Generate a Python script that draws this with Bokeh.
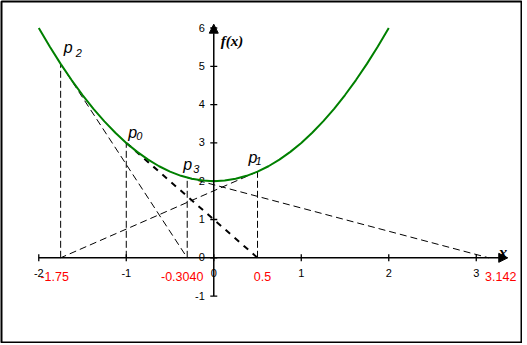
import numpy as np
from bokeh.plotting import figure
from bokeh.models import Range1d, Arrow, NormalHead
from bokeh.core.properties import value
from bokeh.embed import file_html
from bokeh.resources import INLINE

# ---- data ----
# the parabola f(x), sampled
curve_x = [-2.0, -1.875, -1.75, -1.625, -1.5, -1.375, -1.25, -1.125, -1.0,
           -0.875, -0.75, -0.625, -0.5, -0.375, -0.25, -0.125, 0.0,
           0.125, 0.25, 0.375, 0.5, 0.625, 0.75, 0.875, 1.0,
           1.125, 1.25, 1.375, 1.5, 1.625, 1.75, 1.875, 2.0]
curve_y = [6.0, 5.516, 5.063, 4.641, 4.25, 3.891, 3.563, 3.266, 3.0,
           2.766, 2.563, 2.391, 2.25, 2.141, 2.063, 2.016, 2.0,
           2.016, 2.063, 2.141, 2.25, 2.391, 2.563, 2.766, 3.0,
           3.266, 3.563, 3.891, 4.25, 4.641, 5.063, 5.516, 6.0]

# iteration points p0..p3 and the x-axis crossing of the tangent at each
pt_sub = ["0", "1", "2", "3"]
pt_x = [-1.0, 0.5, -1.75, -0.3036]
pt_y = [3.0, 2.25, 5.0625, 2.0922]
root_x = [0.5, -1.75, -0.3036, 3.142]

root_labels = ["-1.75", "-0.3040", "0.5", "3.142"]
root_label_x = [-1.75, -0.3036, 0.5, 3.142]

x_ticks = [-2, -1, 0, 1, 2, 3]
y_ticks = [-1, 0, 1, 2, 3, 4, 5, 6]
x_axis_span = [-2.0, 3.36]
y_axis_span = [-1.0, 6.1]

# ---- figure ----
p = figure(width=522, height=343, output_backend="svg", toolbar_location=None,
           x_axis_type=None, y_axis_type=None,
           x_range=Range1d(-2.426, 3.517), y_range=Range1d(-2.211, 6.692),
           min_border_left=1, min_border_right=1, min_border_top=1, min_border_bottom=1)
p.grid.visible = False
p.outline_line_color = "black"
p.outline_line_width = 2
p.background_fill_color = "white"
p.border_fill_color = "white"

# axes
p.add_layout(Arrow(end=NormalHead(size=9, fill_color="black", line_color="black"),
                   x_start=x_axis_span[0], y_start=0, x_end=x_axis_span[1], y_end=0,
                   line_width=1.5, line_color="black"))
p.add_layout(Arrow(end=NormalHead(size=9, fill_color="black", line_color="black"),
                   x_start=0, y_start=y_axis_span[0], x_end=0, y_end=y_axis_span[1],
                   line_width=1.5, line_color="black"))
p.scatter(x=x_ticks, y=[0] * len(x_ticks), marker="dash", size=7, angle=np.pi / 2,
          line_color="black", line_width=1.3)
p.scatter(x=[0] * len(y_ticks), y=y_ticks, marker="dash", size=7,
          line_color="black", line_width=1.3)

p.text(x=x_ticks, y=[0] * len(x_ticks), text=[str(t) for t in x_ticks],
       text_font=value("Liberation Sans"), text_font_size="11px",
       text_align="center", text_baseline="middle", y_offset=15, text_color="black")
p.text(x=[0] * len(y_ticks), y=y_ticks, text=[str(t) for t in y_ticks],
       text_font=value("Liberation Sans"), text_font_size="11px",
       text_align="right", text_baseline="middle", x_offset=-9, y_offset=-0.5,
       text_color="black")

# vertical dashed drop lines
p.segment(x0=pt_x, y0=[0] * 4, x1=pt_x, y1=pt_y, line_color="black",
          line_width=1, line_dash="7 3")

# tangent lines
p.segment(x0=pt_x[1:], y0=pt_y[1:], x1=root_x[1:], y1=[0] * 3, line_color="black",
          line_width=1, line_dash="7 4")
p.segment(x0=pt_x[:1], y0=pt_y[:1], x1=root_x[:1], y1=[0], line_color="black",
          line_width=2, line_dash="6 6")

# function curve
p.line(curve_x, curve_y, line_color="#008000", line_width=2)

# red root labels
p.text(x=root_label_x, y=[0] * 4, text=root_labels,
       text_font=value("Liberation Sans"), text_font_size="12.5px",
       text_align="center", text_baseline="middle",
       x_offset=[-6, -5, 5, 12], y_offset=18.5, text_color="#ff0000")

# point labels p0..p3
p.text(x=pt_x, y=pt_y, text=["p"] * 4,
       text_font=value("Liberation Sans"), text_font_size="16px", text_font_style="italic",
       text_align="left", text_baseline="alphabetic",
       x_offset=[2, -9, 3, -4], y_offset=[-10, -14, -16, -13], text_color="black")
p.text(x=pt_x, y=pt_y, text=pt_sub,
       text_font=value("Liberation Sans"), text_font_size="11px", text_font_style="italic",
       text_align="left", text_baseline="alphabetic",
       x_offset=[10, -2, 15, 6], y_offset=[-7, -11, -11, -9], text_color="black")

# axis titles
p.text(x=[0], y=[y_axis_span[1]], text=["f(x)"],
       text_font=value("Liberation Serif"), text_font_size="15px",
       text_font_style="bold italic", text_align="left", text_baseline="alphabetic",
       x_offset=7, y_offset=17, text_color="black")
p.text(x=[x_axis_span[1]], y=[0], text=["x"],
       text_font=value("Liberation Serif"), text_font_size="17px",
       text_font_style="bold italic", text_align="left", text_baseline="alphabetic",
       x_offset=-9, y_offset=-5, text_color="black")

open("out.html", "w").write(file_html(p, INLINE))
